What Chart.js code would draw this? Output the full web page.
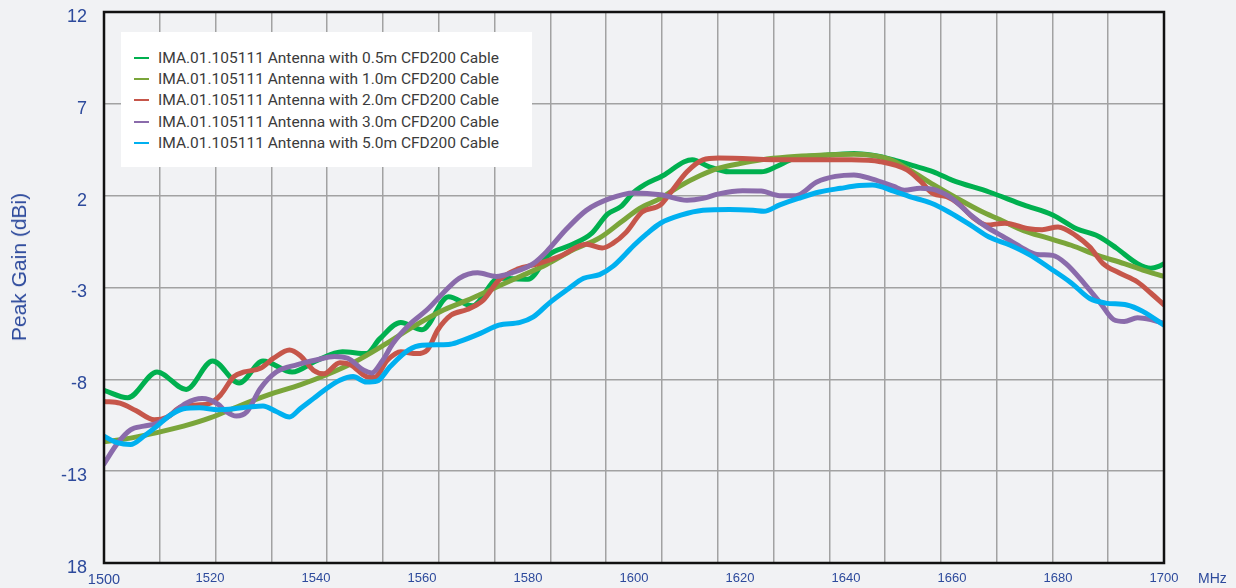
<!DOCTYPE html>
<html>
<head>
<meta charset="utf-8">
<script src="https://cdn.jsdelivr.net/npm/chart.js@4.4.1/dist/chart.umd.min.js"></script>
<style>
  html, body { margin: 0; padding: 0; background: #f1f2f4; }
  #wrap { position: relative; width: 1236px; height: 588px; }
  #legend {
    position: absolute; left: 121px; top: 32px; width: 411px; height: 135px;
    background: #fff; box-sizing: border-box; padding-top: 15px;
    font-family: Roboto, sans-serif; font-size: 15.5px; color: #3b3b3b;
  }
  .row { height: 21.3px; display: flex; align-items: center; padding-left: 13px; white-space: nowrap; }
  .swatch { width: 15px; height: 2px; margin-right: 9px; }
  #ytitle {
    position: absolute; left: 19px; top: 267px; transform: translate(-50%, -50%) rotate(-90deg);
    font-family: "Liberation Sans", Arial, sans-serif; font-size: 21px; color: #2d4a9c; white-space: nowrap;
  }
  #unit {
    position: absolute; left: 1198px; top: 570px; line-height: 16px;
    font-family: "Liberation Sans", Arial, sans-serif; font-size: 14px; color: #2d4a9c;
  }
</style>
</head>
<body>
<div id="wrap">
  <canvas id="myChart"></canvas>
  <div id="legend"></div>
  <div id="ytitle">Peak Gain (dBi)</div>
  <div id="unit">MHz</div>
</div>
<script>
// series labels and colours
const seriesLabels = [
  'IMA.01.105111 Antenna with 0.5m CFD200 Cable',
  'IMA.01.105111 Antenna with 1.0m CFD200 Cable',
  'IMA.01.105111 Antenna with 2.0m CFD200 Cable',
  'IMA.01.105111 Antenna with 3.0m CFD200 Cable',
  'IMA.01.105111 Antenna with 5.0m CFD200 Cable'
];
const seriesColors = ['#00b04f', '#7aa53a', '#c6564a', '#8a6bab', '#00b0f0'];

// y axis tick labels (as printed on the original)
const yTickValues = [12, 7, 2, -3, -8, -13, -18];
const yTickLabels = ['12', '7', '2', '-3', '-8', '-13', '18'];

// 0.5m cable
const freq05 = [1500, 1504.5, 1510, 1515.5, 1520.5, 1525.5, 1530, 1535.5, 1540, 1545, 1549.5, 1552, 1556, 1560,
  1565, 1569.5, 1574.5, 1580, 1584, 1588, 1592, 1595, 1597.5, 1600, 1602, 1605.5, 1609.5, 1611, 1614, 1618,
  1624, 1627, 1630, 1636, 1641.5, 1645, 1649, 1652.5, 1656.5, 1660, 1667, 1673.5, 1679, 1683.5, 1687.5,
  1691, 1695, 1697.5, 1699, 1700];
const gain05 = [-8.6, -9.0, -7.6, -8.55, -7.0, -8.2, -7.0, -7.6, -7.0, -6.5, -6.6, -5.8, -4.9, -5.3,
  -3.5, -4.0, -2.5, -2.55, -1.2, -0.7, -0.05, 1.0, 1.4, 2.2, 2.6, 3.1, 3.85, 3.95, 3.6, 3.3,
  3.3, 3.6, 4.0, 4.2, 4.3, 4.2, 3.95, 3.65, 3.3, 2.85, 2.2, 1.5, 0.95, 0.2, -0.2,
  -0.85, -1.7, -1.95, -1.85, -1.7];

// 1.0m cable
const freq10 = [1500, 1505, 1510, 1515, 1520, 1525.5, 1531, 1537, 1542, 1547, 1553, 1558.5, 1563.5, 1568.5,
  1573.5, 1578.5, 1583.5, 1588.5, 1593.5, 1597.5, 1601, 1605, 1608.5, 1612.5, 1616, 1620, 1624, 1629,
  1635, 1641.5, 1648, 1652, 1656.5, 1661, 1665.5, 1669, 1673.5, 1678, 1682.5, 1687.5, 1692.5, 1696, 1700];
const gain10 = [-11.4, -11.2, -10.9, -10.55, -10.1, -9.45, -8.85, -8.3, -7.75, -7.1, -6.1, -5.1, -4.3, -3.7,
  -3.05, -2.4, -1.75, -0.95, -0.3, 0.55, 1.3, 1.85, 2.5, 3.1, 3.5, 3.75, 3.95, 4.1,
  4.2, 4.25, 4.0, 3.4, 2.6, 1.85, 1.15, 0.7, 0.1, -0.3, -0.7, -1.25, -1.7, -2.05, -2.4];

// 2.0m cable
const freq20 = [1500, 1503, 1506, 1509.5, 1512, 1514.5, 1517.5, 1520, 1522, 1524.5, 1526.5, 1529.5, 1532, 1535,
  1537, 1539.5, 1541.5, 1544.5, 1546.5, 1549.5, 1551, 1553.5, 1556, 1559, 1561, 1563, 1565.5, 1568.5,
  1571.5, 1574.5, 1578, 1582, 1586, 1591, 1594, 1596, 1598.5, 1601.5, 1605, 1607, 1610, 1613, 1616,
  1629, 1641, 1646.5, 1651.5, 1654, 1656.5, 1659, 1661.5, 1664, 1666.5, 1670, 1674.5, 1677, 1680,
  1683.5, 1686, 1688.5, 1691.5, 1695, 1697.5, 1700];
const gain20 = [-9.2, -9.3, -9.7, -10.2, -10.05, -9.5, -9.4, -9.3, -8.85, -7.85, -7.6, -7.4, -6.85, -6.4,
  -6.7, -7.5, -7.7, -7.1, -7.2, -7.85, -7.9, -6.95, -6.5, -6.6, -6.4, -5.3, -4.5, -4.2,
  -3.7, -2.6, -2.0, -1.7, -1.3, -0.65, -0.85, -0.6, 0.0, 1.1, 1.5, 2.2, 3.3, 3.95, 4.05,
  3.95, 3.95, 3.85, 3.4, 2.8, 2.1, 1.95, 1.5, 0.8, 0.4, 0.5, 0.2, 0.15, 0.3,
  -0.2, -0.8, -1.7, -2.2, -2.7, -3.3, -3.95];

// 3.0m cable
const freq30 = [1500, 1502.5, 1505, 1507.5, 1510, 1512.5, 1515.5, 1518.5, 1521.5, 1523, 1525, 1527, 1529.5, 1532.5,
  1536.5, 1540, 1543.5, 1546, 1549, 1550.5, 1552.5, 1554.5, 1557.5, 1561, 1564, 1567, 1570.5, 1574,
  1577, 1581, 1583.5, 1587, 1591, 1595.5, 1600, 1605, 1610, 1613, 1616, 1620.5, 1624, 1627.5,
  1630.5, 1634.5, 1638, 1641.5, 1645, 1649, 1651, 1654, 1657, 1660, 1663.5, 1666.5, 1669.5, 1673,
  1676, 1679, 1681.5, 1685, 1688, 1690.5, 1692.5, 1695, 1697.5, 1700];
const gain30 = [-12.6, -11.5, -10.75, -10.55, -10.4, -9.95, -9.3, -9.05, -9.35, -9.75, -10.0, -9.75, -8.5, -7.6,
  -7.2, -6.95, -6.75, -6.85, -7.5, -7.65, -7.0, -6.05, -5.05, -4.2, -3.3, -2.5, -2.2, -2.4,
  -2.2, -1.7, -1.05, 0.1, 1.2, 1.85, 2.15, 2.05, 1.75, 1.85, 2.1, 2.27, 2.25, 2.0,
  2.0, 2.75, 3.05, 3.13, 2.9, 2.5, 2.3, 2.4, 2.3, 1.85, 0.95, 0.3, -0.2, -0.8,
  -1.2, -1.25, -1.7, -2.8, -3.85, -4.75, -4.85, -4.65, -4.75, -4.95];

// 5.0m cable
const freq50 = [1500, 1502.5, 1505, 1507.5, 1510, 1512.5, 1515, 1518, 1521.5, 1524.5, 1527.5, 1530, 1532.5, 1535,
  1537, 1539.5, 1542, 1544.5, 1547, 1549.5, 1551.5, 1554, 1557.5, 1560, 1565, 1567, 1571, 1574.5,
  1578.5, 1581, 1584, 1587.5, 1590.5, 1593.5, 1596, 1598.5, 1600, 1602.5, 1605, 1609, 1613, 1618,
  1622.5, 1624.5, 1627.5, 1631, 1635, 1639, 1642.5, 1645, 1649, 1652, 1656, 1659.5, 1663.5, 1667,
  1671, 1674.5, 1678.5, 1682.5, 1686, 1689, 1693, 1696, 1700];
const gain50 = [-11.1, -11.45, -11.55, -11.1, -10.55, -9.95, -9.6, -9.55, -9.65, -9.6, -9.5, -9.45, -9.75, -10.05,
  -9.6, -9.05, -8.5, -8.05, -7.85, -8.15, -8.1, -7.3, -6.4, -6.15, -6.1, -5.95, -5.5, -5.05,
  -4.9, -4.6, -3.85, -3.1, -2.5, -2.3, -1.85, -1.15, -0.7, -0.05, 0.5, 0.95, 1.2, 1.25,
  1.2, 1.15, 1.5, 1.85, 2.2, 2.4, 2.55, 2.58, 2.25, 1.95, 1.6, 1.1, 0.4, -0.25,
  -0.7, -1.2, -1.95, -2.75, -3.6, -3.85, -3.95, -4.3, -5.05];

const allFreqs = [freq05, freq10, freq20, freq30, freq50];
const allGains = [gain05, gain10, gain20, gain30, gain50];

// legend box (html)
const legendBox = document.getElementById('legend');
seriesLabels.forEach((label, i) => {
  const row = document.createElement('div');
  row.className = 'row';
  row.innerHTML = `<span class="swatch" style="background:${seriesColors[i]}"></span><span>${label}</span>`;
  legendBox.appendChild(row);
});

// black frame round the plot
const frame = {
  id: 'frame',
  afterDatasetsDraw(chart) {
    const { ctx, chartArea: a } = chart;
    ctx.save();
    ctx.strokeStyle = '#111';
    ctx.lineWidth = 2.5;
    ctx.strokeRect(a.left, a.top, a.right - a.left, a.bottom - a.top);
    ctx.restore();
  }
};

// no label overflow padding, so the plot box sits where the layout says
function noOverflow(s) {
  s.paddingTop = 0; s.paddingBottom = 0; s.paddingLeft = 0; s.paddingRight = 0;
}

const blue = '#2d4a9c';
const datasets = seriesLabels.map((label, i) => ({
  label: label,
  data: allFreqs[i].map((f, j) => ({ x: f, y: allGains[i][j] })),
  borderColor: seriesColors[i],
  borderWidth: 5,
  pointRadius: 0,
  cubicInterpolationMode: 'monotone',
  borderCapStyle: 'round',
  borderJoinStyle: 'round',
  fill: false,
  order: 5 - i
}));

const ctx = document.getElementById('myChart').getContext('2d');
const myChart = new Chart(ctx, {
  type: 'line',
  data: { datasets: datasets },
  plugins: [frame],
  options: {
    responsive: true,
    maintainAspectRatio: false,
    animation: false,
    layout: { padding: { left: 0, right: 72, top: 12, bottom: 0 } },
    plugins: { legend: { display: false }, tooltip: { enabled: false } },
    scales: {
      x: {
        type: 'linear', min: 1500, max: 1700,
        grid: { display: false, drawTicks: false },
        border: { display: false },
        afterFit: s => { s.height = 25; noOverflow(s); },
        ticks: {
          stepSize: 20, padding: 8, color: blue, maxRotation: 0,
          font: c => ({ family: '"Liberation Sans", Arial, sans-serif', size: c.index === 0 ? 14.5 : 13 }),
          callback: v => String(v)
        }
      },
      xgrid: {
        type: 'linear', position: 'bottom', min: 1500, max: 1700,
        afterFit: s => { s.height = 0; noOverflow(s); },
        afterBuildTicks: s => {
          const t = [];
          for (let k = 1; k < 19; k++) t.push({ value: 1500 + k * 200 / 19 });
          s.ticks = t;
        },
        grid: { color: '#a2a2a2', lineWidth: 1.5, drawTicks: false },
        border: { display: false },
        ticks: { display: false }
      },
      y: {
        type: 'linear', min: -18, max: 12,
        afterFit: s => { s.width = 104; noOverflow(s); },
        grid: { color: '#a2a2a2', lineWidth: 1.5, drawTicks: false },
        border: { display: false },
        ticks: {
          stepSize: 5, padding: 17, labelOffset: 5, color: blue,
          font: { family: '"Liberation Sans", Arial, sans-serif', size: 18 },
          callback: v => {
            const k = yTickValues.indexOf(v);
            return k >= 0 ? yTickLabels[k] : '';
          }
        }
      }
    }
  }
});
</script>
</body>
</html>
